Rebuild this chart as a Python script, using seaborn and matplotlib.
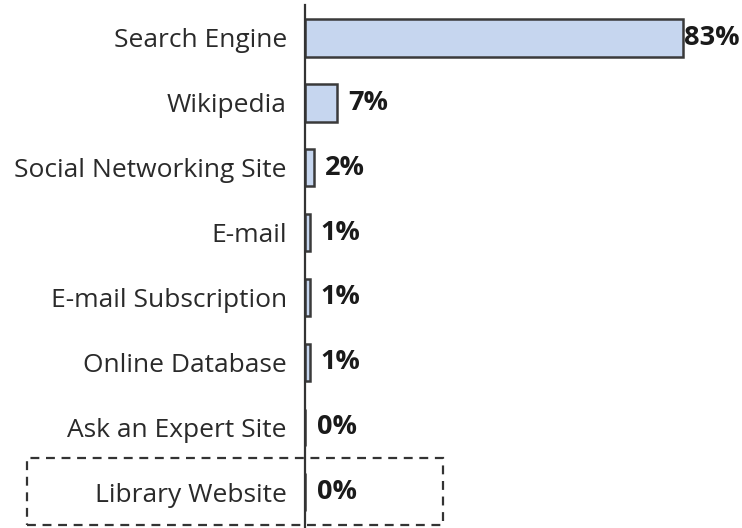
import matplotlib
matplotlib.use("Agg")
import matplotlib.pyplot as plt
import seaborn as sns
import pandas as pd
from matplotlib.patches import Rectangle

categories = ["Search Engine", "Wikipedia", "Social Networking Site", "E-mail",
              "E-mail Subscription", "Online Database", "Ask an Expert Site", "Library Website"]
values = [83, 7, 2, 1, 1, 1, 0, 0]
labels = ["83%", "7%", "2%", "1%", "1%", "1%", "0%", "0%"]

sns.set_theme(style="white")
plt.rcParams['font.family'] = ['Open Sans', 'DejaVu Sans']

df = pd.DataFrame({"cat": categories, "val": values})

fig = plt.figure(figsize=(7.42, 5.28), dpi=100)
ax = fig.add_axes([0.411, 0.0, 0.589, 0.99])
sns.barplot(data=df, x="val", y="cat", ax=ax, color="#c6d6ef", saturation=1,
            edgecolor="#3a3a3a", linewidth=1.8, width=0.58)
ax.set_xlim(0, 96)
ax.set_ylim(7.55, -0.5)
ax.set_xlabel("")
ax.set_ylabel("")
ax.set_xticks([])
for s in ["top", "right", "bottom"]:
    ax.spines[s].set_visible(False)
ax.spines["left"].set_color("#333333")
ax.spines["left"].set_linewidth(1.6)
ax.tick_params(axis="y", length=0, pad=13, labelsize=19, labelcolor="#2a2a2a")
for i, (v, lab) in enumerate(zip(values, labels)):
    off = 1.0 if v > 50 else (8 if v > 0 else 9)
    ax.annotate(lab, xy=(v, i), xytext=(off, 0), textcoords="offset points",
                va="center", ha="left", fontsize=19.5, fontweight="bold", color="#1a1a1a")

rect = Rectangle((27 / 742, 1 - 525 / 528), (443 - 27) / 742, (525 - 458) / 528,
                 transform=fig.transFigure, fill=False, edgecolor="#333333",
                 linestyle=(0, (4, 3)), linewidth=1.6, clip_on=False)
fig.patches.append(rect)

fig.savefig("out.png", dpi=100, facecolor="white")
